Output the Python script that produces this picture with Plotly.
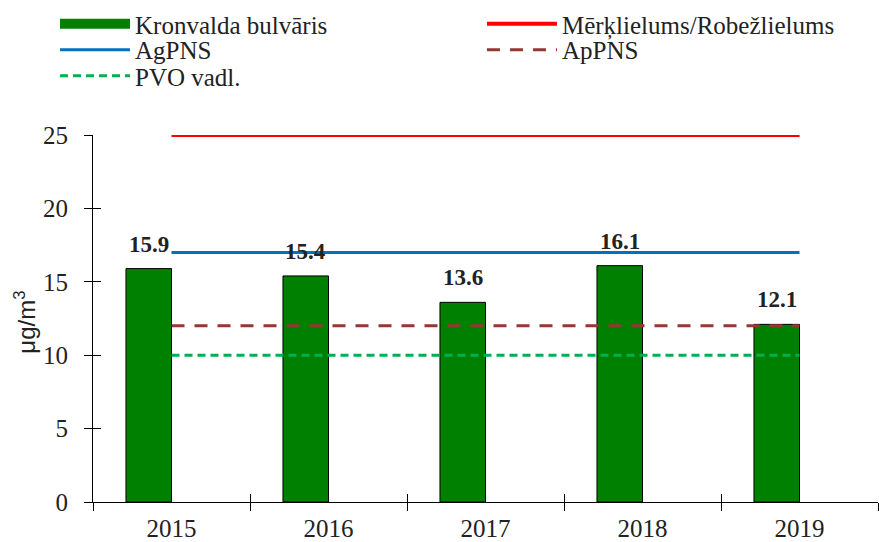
import plotly.graph_objects as go

years = ["2015", "2016", "2017", "2018", "2019"]
kronvalda = [15.9, 15.4, 13.6, 16.1, 12.1]
merklielums = [25, 25, 25, 25, 25]
agpns = [17, 17, 17, 17, 17]
appns = [12, 12, 12, 12, 12]
pvo = [10, 10, 10, 10, 10]
y_ticks = [0, 5, 10, 15, 20, 25]

serif = "Liberation Serif, Times New Roman, serif"
txt = "#222222"
bar_w = 0.29

fig = go.Figure()
fig.add_trace(go.Bar(
    x=years, y=kronvalda, name="Kronvalda bulvāris",
    marker=dict(color="#008000", line=dict(color="black", width=1)),
    offset=-bar_w, width=bar_w, legendgroup="k", showlegend=False,
))
# legend entry for the bars (wide rectangle look)
fig.add_trace(go.Scatter(x=[None], y=[None], mode="lines", name="Kronvalda bulvāris",
                         legendgroup="k", legend="legend",
                         line=dict(color="#008000", width=11)))
fig.add_trace(go.Scatter(x=years, y=merklielums, mode="lines", name="Mērķlielums/Robežlielums",
                         legend="legend2", cliponaxis=False,
                         line=dict(color="#FF0000", width=4)))
fig.add_trace(go.Scatter(x=years, y=agpns, mode="lines", name="AgPNS",
                         legend="legend3", cliponaxis=False,
                         line=dict(color="#0070C0", width=3)))
fig.add_trace(go.Scatter(x=years, y=appns, mode="lines", name="ApPNS",
                         legend="legend4", cliponaxis=False,
                         line=dict(color="#953735", width=3, dash="13px,10px")))
fig.add_trace(go.Scatter(x=years, y=pvo, mode="lines", name="PVO vadl.",
                         legend="legend5", cliponaxis=False,
                         line=dict(color="#00B050", width=3, dash="8px,5px")))
# invisible trace to carry the overlay axes (inner halves of crossing ticks)
fig.add_trace(go.Scatter(x=years, y=[None] * len(years), xaxis="x2", yaxis="y2",
                         showlegend=False, hoverinfo="skip"))

# value labels above the bars
for i, v in enumerate(kronvalda):
    fig.add_annotation(x=i - bar_w / 2, y=v, text=f"<b>{v:.1f}</b>", showarrow=False,
                       yanchor="bottom", yshift=10,
                       font=dict(family=serif, size=23, color=txt))

# y-axis title
fig.add_annotation(text="μg/m<sup>3</sup>", xref="paper", yref="paper",
                   x=-0.086, y=0.49, xanchor="center", yanchor="middle",
                   textangle=-90, showarrow=False,
                   font=dict(family="Liberation Sans, Arial, sans-serif", size=24, color=txt))

legend_common = dict(
    orientation="v", xanchor="left", yanchor="top", itemwidth=70,
    font=dict(family=serif, size=25, color=txt),
    bgcolor="rgba(0,0,0,0)", tracegroupgap=0, traceorder="normal",
)
col_left, col_right = -0.0484, 0.4955
row1, row2, row3 = 1.3651, 1.2943, 1.2234

fig.update_layout(
    width=879, height=542,
    margin=dict(l=93, r=1, t=135, b=40, autoexpand=False),
    paper_bgcolor="white", plot_bgcolor="white",
    font=dict(family=serif, size=25, color=txt),
    showlegend=True,
    legend=dict(x=col_left, y=row1, **legend_common),
    legend2=dict(x=col_right, y=row1, **legend_common),
    legend3=dict(x=col_left, y=row2, **legend_common),
    legend4=dict(x=col_right, y=row2, **legend_common),
    legend5=dict(x=col_left, y=row3, **legend_common),
    xaxis2=dict(overlaying="x", matches="x", type="category", tickson="boundaries",
                ticks="inside", ticklen=8, tickcolor="black", showticklabels=False,
                showgrid=False, showline=False, anchor="y"),
    yaxis2=dict(overlaying="y", range=[0, 25], tickvals=y_ticks, ticks="inside",
                ticklen=8, tickcolor="black", showticklabels=False, showgrid=False,
                zeroline=False, showline=False, anchor="x", side="left"),
    xaxis=dict(
        type="category", tickson="boundaries", ticks="outside", ticklen=8,
        tickcolor="black", showline=True, linecolor="black", linewidth=1,
        showgrid=False, tickfont=dict(family=serif, size=25, color=txt),
        range=[-0.5, 4.5], ticklabelstandoff=4,
    ),
    yaxis=dict(
        range=[0, 25], tickvals=y_ticks, ticks="outside", ticklen=8,
        tickcolor="black", showline=True, linecolor="black", linewidth=1,
        showgrid=False, zeroline=False, ticklabelstandoff=11,
        tickfont=dict(family=serif, size=25, color=txt),
    ),
)

fig.write_html("out.html", config={"displayModeBar": False},
               post_script="document.body.style.margin='0';")
